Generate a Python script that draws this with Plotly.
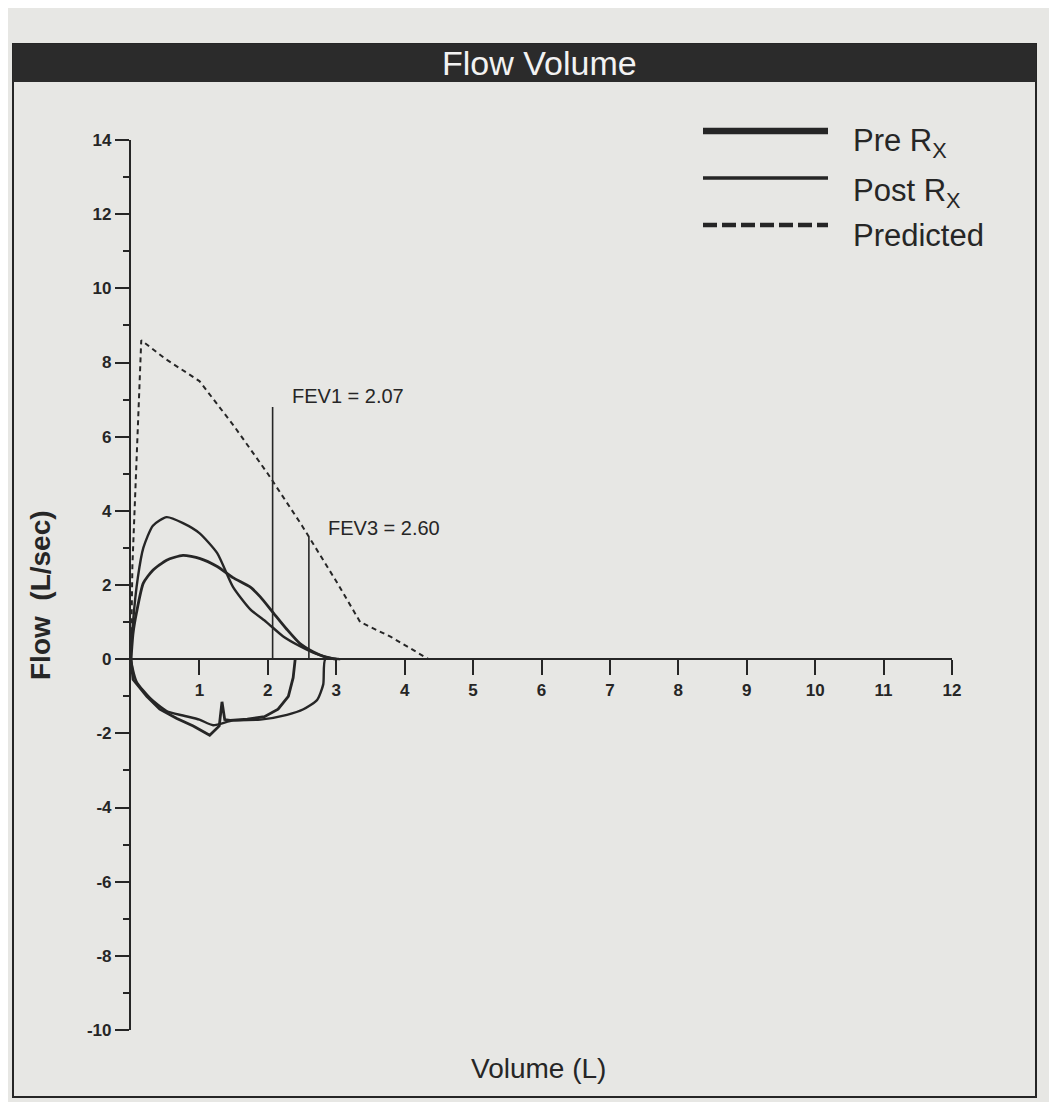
import plotly.graph_objects as go

# ---------------- data ----------------
pre_exp_vol = [0, 0.03, 0.08, 0.18, 0.32, 0.52, 0.76, 1.0, 1.26, 1.49, 1.74, 1.89, 2.08, 2.28, 2.47, 2.66, 2.85, 3.0]
pre_exp_flow = [0, 0.7, 1.25, 2.05, 2.4, 2.67, 2.8, 2.72, 2.5, 2.2, 1.95, 1.68, 1.25, 0.8, 0.42, 0.2, 0.05, 0]
pre_insp_vol = [2.40, 2.37, 2.30, 2.15, 1.95, 1.70, 1.45, 1.37, 1.33, 1.29, 1.15, 0.91, 0.67, 0.42, 0.23, 0.03, 0.0]
pre_insp_flow = [0, -0.5, -1.0, -1.35, -1.55, -1.62, -1.65, -1.63, -1.15, -1.8, -2.05, -1.8, -1.6, -1.35, -1.0, -0.55, 0]

post_exp_vol = [0, 0.03, 0.1, 0.18, 0.32, 0.52, 0.76, 1.0, 1.26, 1.49, 1.74, 1.98, 2.22, 2.47, 2.7, 2.95, 3.05]
post_exp_flow = [0, 1.0, 2.2, 3.0, 3.6, 3.83, 3.67, 3.4, 2.86, 1.95, 1.35, 1.0, 0.62, 0.35, 0.15, 0.02, 0]
post_insp_vol = [2.84, 2.81, 2.72, 2.52, 2.28, 1.89, 1.49, 1.2, 1.0, 0.76, 0.52, 0.28, 0.08, 0.0]
post_insp_flow = [0, -0.68, -1.1, -1.35, -1.5, -1.63, -1.65, -1.78, -1.63, -1.52, -1.4, -1.05, -0.6, 0]

pred_vol = [0, 0.02, 0.15, 0.5, 1.0, 1.5, 2.0, 2.5, 3.0, 3.35, 3.8, 4.35]
pred_flow = [0, 2.5, 8.6, 8.1, 7.5, 6.3, 5.0, 3.6, 2.1, 1.0, 0.6, 0]

fev_names = ["FEV1", "FEV3"]
fev_values = [2.07, 2.60]
fev_heights = [6.8, 3.3]
fev_label_flow = [7.1, 3.55]

x_ticks = list(range(1, 13))
y_ticks = list(range(-10, 15, 2))

# ---------------- styling ----------------
BG = "#e7e7e4"
INK = "#262626"
FONT = "Liberation Sans, Arial, sans-serif"

# page body has an 8px margin; reference pixel coordinates below are page coordinates
OFF = 8
FIG_W, FIG_H = 1057 - 2 * OFF, 1110 - 2 * OFF
L, R, T, B = 131, 952, 140, 1030          # plot area in reference (page) pixels
W, H = R - L, B - T
def px(x):
    return (x - L) / W
def py(y):
    return (B - y) / H

fig = go.Figure()

fig.add_trace(go.Scatter(x=post_exp_vol + post_insp_vol, y=post_exp_flow + post_insp_flow,
                         mode="lines", line=dict(color=INK, width=2.4, shape="spline", smoothing=0.6),
                         name="Post Rx", showlegend=False))
fig.add_trace(go.Scatter(x=pre_exp_vol, y=pre_exp_flow,
                         mode="lines", line=dict(color=INK, width=2.8, shape="spline", smoothing=0.6),
                         name="Pre Rx", showlegend=False))
fig.add_trace(go.Scatter(x=pre_insp_vol, y=pre_insp_flow,
                         mode="lines", line=dict(color=INK, width=2.8), name="Pre Rx",
                         showlegend=False))
fig.add_trace(go.Scatter(x=pred_vol, y=pred_flow, mode="lines",
                         line=dict(color=INK, width=2, dash="5px,4px"), name="Predicted",
                         showlegend=False))

for name, v, h, lf in zip(fev_names, fev_values, fev_heights, fev_label_flow):
    fig.add_trace(go.Scatter(x=[v, v], y=[0, h], mode="lines",
                             line=dict(color=INK, width=1.6), showlegend=False))
    fig.add_annotation(x=v, y=lf, xref="x", yref="y", text=f"{name} = {v:.2f}",
                       xanchor="left", yanchor="middle", xshift=17, showarrow=False,
                       font=dict(family=FONT, size=20, color=INK))

y_min, y_max = -10, 14

fig.update_layout(
    width=FIG_W, height=FIG_H,
    margin=dict(l=L - OFF, r=FIG_W - (R - OFF), t=T - OFF, b=FIG_H - (B - OFF)),
    paper_bgcolor=BG, plot_bgcolor=BG,
    xaxis=dict(range=[0, 12], anchor="free", position=(0 - y_min) / (y_max - y_min),
               showline=True, linecolor=INK, linewidth=2.2, showgrid=False, zeroline=False,
               ticks="outside", ticklen=15, tickwidth=2, tickcolor=INK,
               tickvals=x_ticks, ticktext=[str(t) for t in x_ticks],
               tickfont=dict(family=FONT, size=17, color=INK, weight="bold")),
    yaxis=dict(range=[y_min, y_max], showline=True, linecolor=INK, linewidth=2.2,
               showgrid=False, zeroline=False,
               ticks="outside", ticklen=14, tickwidth=2, tickcolor=INK,
               tickvals=y_ticks, ticktext=[str(t) for t in y_ticks],
               tickfont=dict(family=FONT, size=17, color=INK, weight="bold"),
               minor=dict(dtick=1, ticks="outside", ticklen=6, tickwidth=2, tickcolor=INK,
                          showgrid=False)),
)

# outer frame and title bar
fig.add_shape(type="rect", xref="paper", yref="paper", x0=px(13), x1=px(1036),
              y0=py(1097), y1=py(44), line=dict(color=INK, width=2), fillcolor="rgba(0,0,0,0)")
fig.add_shape(type="rect", xref="paper", yref="paper", x0=px(13), x1=px(1036),
              y0=py(82), y1=py(44), line=dict(color=INK, width=0), fillcolor="#2b2b2b")
fig.add_annotation(x=px(539), y=py(63), xref="paper", yref="paper", text="Flow Volume",
                   showarrow=False, xanchor="center", yanchor="middle",
                   font=dict(family=FONT, size=34, color="#f2f2f2"))

# axis titles
fig.add_annotation(x=px(40), y=py(595), xref="paper", yref="paper", text="Flow  (L/sec)",
                   textangle=-90, showarrow=False, xanchor="center", yanchor="middle",
                   font=dict(family=FONT, size=28, color=INK, weight="bold"))
fig.add_annotation(x=px(538), y=py(1068), xref="paper", yref="paper", text="Volume (L)",
                   showarrow=False, xanchor="center", yanchor="middle",
                   font=dict(family=FONT, size=28, color=INK))

# legend (drawn manually to match long line samples)
legend_items = [("Pre R<sub>X</sub>", 131, 6.5, "solid", 143),
                ("Post R<sub>X</sub>", 178, 3.5, "solid", 193),
                ("Predicted", 225, 4.5, "14px,5px", 235)]
for text, ly, lw, dash, ty in legend_items:
    fig.add_shape(type="line", xref="paper", yref="paper", x0=px(703), x1=px(828),
                  y0=py(ly), y1=py(ly), line=dict(color=INK, width=lw, dash=dash))
    fig.add_annotation(x=px(851), y=py(ty), xref="paper", yref="paper", text=text,
                       showarrow=False, xanchor="left", yanchor="middle",
                       font=dict(family=FONT, size=31, color=INK))

fig.write_html("out.html")
